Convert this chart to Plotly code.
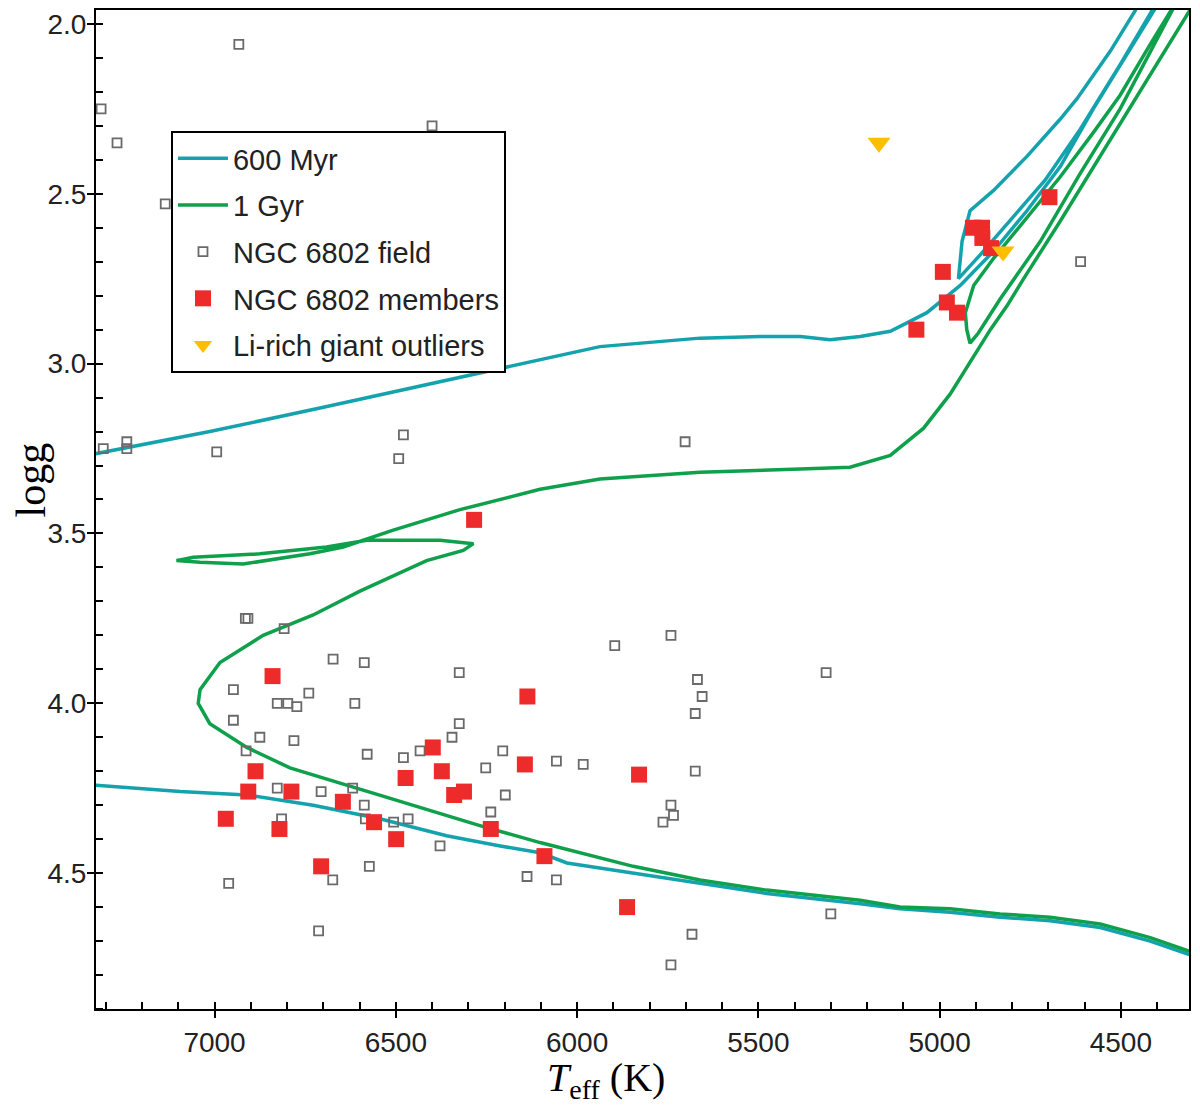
import plotly.graph_objects as go

# isochrones (Teff in K, logg), None breaks the line off-plot
iso600_teff = [4311, 4419, 4557, 4695, 4833, 4971, 5109, 5219, 5477, 5661, 5845, 6028, 6102, 6212,
               6360, 6544, 6728, 6911, 7095, 7324, 7400, None,
               7400, 7327, 7013, 6706, 6406, 6113, 5937, 5661, 5495, 5384, 5302, 5219, 5136, 5090,
               5035, 4943, 4852, 4759, 4667, 4576, 4391,
               4386, 4419, 4502, 4612, 4709, 4805, 4888, 4948,
               4938, 4916, 4851, 4759, 4667, 4621, 4529, 4460, 4433]
iso600_logg = [4.74, 4.70, 4.66, 4.64, 4.63, 4.615, 4.605, 4.59, 4.56, 4.53, 4.50, 4.47, 4.44, 4.42,
               4.39, 4.34, 4.30, 4.27, 4.26, 4.24, 4.235, None,
               3.28, 3.265, 3.20, 3.13, 3.06, 2.99, 2.95, 2.925, 2.92, 2.92, 2.93, 2.92, 2.905, 2.88,
               2.85, 2.77, 2.67, 2.55, 2.42, 2.25, 1.93,
               1.90, 1.97, 2.12, 2.31, 2.46, 2.58, 2.68, 2.75,
               2.64, 2.55, 2.49, 2.39, 2.28, 2.22, 2.08, 1.96, 1.90]

iso1g_teff = [4311, 4419, 4557, 4695, 4833, 4971, 5109, 5219, 5477, 5661, 5845, 6028, 6102, 6268,
              6452, 6635, 6792, 6911, 7013, 7045, 7040, 6985, 6866, 6728, 6599, 6415, 6314, 6286,
              6378, 6580, 6691, 6875, 7059, 7105,
              7040, 6921, 6737, 6645, 6507, 6323, 6102, 5937, 5661, 5384, 5247, 5136, 5044, 4971,
              4906, 4860, 4814, 4768, 4667, 4557, 4446, 4281,
              4336, 4502, 4612, 4722, 4833, 4893, 4916,
              4925, 4929, 4906, 4851, 4759, 4667, 4576, 4502, 4419, 4350, 4322]
iso1g_logg = [4.73, 4.69, 4.65, 4.63, 4.62, 4.605, 4.60, 4.58, 4.55, 4.52, 4.48, 4.43, 4.41, 4.36,
              4.30, 4.24, 4.19, 4.13, 4.06, 4.00, 3.96, 3.88, 3.80, 3.74, 3.67, 3.58, 3.55, 3.53,
              3.52, 3.52, 3.54, 3.56, 3.57, 3.58,
              3.585, 3.59, 3.56, 3.54, 3.49, 3.43, 3.37, 3.34, 3.32, 3.31, 3.305, 3.27, 3.19, 3.09,
              2.98, 2.90, 2.83, 2.75, 2.58, 2.39, 2.20, 1.91,
              1.915, 2.25, 2.44, 2.64, 2.81, 2.91, 2.94,
              2.90, 2.85, 2.77, 2.69, 2.57, 2.45, 2.32, 2.21, 2.06, 1.94, 1.90]

field_teff = [6933, 7313, 7269, 7136, 6400, 7307, 7242, 7242, 6994, 6479, 6492, 5702, 4611,
              6915, 6908, 6808, 6673, 6587, 6325, 6948, 6740, 6827, 6798, 6773, 6613, 6948, 6325,
              6875, 6781, 6345, 6913, 6579, 6479, 6433, 6205, 6252, 6827, 6706, 6619, 6198, 6587,
              6584, 6506, 6466, 6238, 6815, 6378, 6573, 6674, 6961, 6138, 6713, 5896, 5741, 5313,
              5668, 5655, 5674, 6057, 5983, 5674, 5741, 5734, 5763, 6057, 5300, 5683, 5741]
field_logg = [2.06, 2.25, 2.35, 2.53, 2.30, 3.25, 3.23, 3.25, 3.26, 3.21, 3.28, 3.23, 2.70,
              3.75, 3.75, 3.78, 3.87, 3.88, 3.91, 3.96, 3.97, 4.00, 4.00, 4.01, 4.00, 4.05, 4.06,
              4.10, 4.11, 4.10, 4.14, 4.15, 4.16, 4.14, 4.14, 4.19, 4.25, 4.26, 4.25, 4.27, 4.30,
              4.34, 4.35, 4.34, 4.32, 4.34, 4.42, 4.48, 4.52, 4.53, 4.51, 4.67, 3.83, 3.80, 3.91,
              3.93, 3.98, 4.03, 4.17, 4.18, 4.20, 4.30, 4.33, 4.35, 4.52, 4.62, 4.68, 4.77]

memb_teff = [6840, 6137, 6398, 6887, 6373, 6144, 6473, 6907, 6788, 6312, 6339, 6646, 6969, 6560,
             6821, 6499, 6238, 6090, 6706, 5829, 5862, 6284, 4697, 4908, 4883, 4882, 4858, 4991,
             4980, 4952, 5064]
memb_logg = [3.92, 3.98, 4.13, 4.20, 4.20, 4.18, 4.22, 4.26, 4.26, 4.26, 4.27, 4.29, 4.34, 4.35,
             4.37, 4.40, 4.37, 4.45, 4.48, 4.21, 4.60, 3.46, 2.51, 2.60, 2.60, 2.63, 2.66, 2.73,
             2.82, 2.85, 2.90]

lirich_teff = [5167, 4825]
lirich_logg = [2.35, 2.67]

x_range = [7327, 4312]
y_range = [4.90, 1.959]

TEAL = "#14a3ad"
GREEN = "#0ea04a"

fig = go.Figure()
fig.add_trace(go.Scatter(x=iso600_teff, y=iso600_logg, mode="lines", name="600 Myr",
                         legendgroup="a", line=dict(color=TEAL, width=3.5)))
fig.add_trace(go.Scatter(x=iso1g_teff, y=iso1g_logg, mode="lines", name="1 Gyr",
                         legendgroup="b", line=dict(color=GREEN, width=3.5)))
fig.add_trace(go.Scatter(x=field_teff, y=field_logg, mode="markers", name="NGC 6802 field",
                         legendgroup="c",
                         marker=dict(symbol="square-open", size=9, color="#6a6a6a",
                                     line=dict(width=1.8, color="#6a6a6a"))))
fig.add_trace(go.Scatter(x=memb_teff, y=memb_logg, mode="markers", name="NGC 6802 members",
                         legendgroup="d",
                         marker=dict(symbol="square", size=16, color="#ee2b2b", line=dict(width=0))))
fig.add_trace(go.Scatter(x=lirich_teff, y=lirich_logg, mode="markers", name="Li-rich giant outliers",
                         legendgroup="e",
                         marker=dict(symbol="triangle-down", size=20, color="#ffbd00",
                                     line=dict(width=0))))
# empty trace so the twin axes (inside half of the crossing ticks) get drawn
fig.add_trace(go.Scatter(x=[None], y=[None], xaxis="x2", yaxis="y2", showlegend=False,
                         hoverinfo="skip"))

tickfont = dict(family="Liberation Sans, Arial", size=28, color="#222222")
serif = "Liberation Serif, Times New Roman"

# the page body adds 8px of offset, so margins are shifted by that amount
fig.update_layout(
    width=1200, height=1112,
    margin=dict(l=88, r=19, t=2, b=111),
    paper_bgcolor="white", plot_bgcolor="white",
    xaxis=dict(range=x_range, dtick=500, ticks="outside", ticklen=7, tickwidth=2,
               tickcolor="black", showline=True, linewidth=2, linecolor="black", mirror=True,
               showgrid=False, zeroline=False, tickfont=tickfont, automargin=False,
               minor=dict(dtick=100, ticks="inside", ticklen=7, tickwidth=1.5, tickcolor="black")),
    yaxis=dict(range=y_range, dtick=0.5, tickformat=".1f", ticks="outside", ticklen=7, tickwidth=2,
               tickcolor="black", showline=True, linewidth=2, linecolor="black", mirror=True,
               showgrid=False, zeroline=False, tickfont=tickfont, automargin=False,
               ticklabelstandoff=-5,
               minor=dict(dtick=0.1, ticks="inside", ticklen=7, tickwidth=1.5, tickcolor="black")),
    xaxis2=dict(range=x_range, overlaying="x", anchor="y", side="bottom", dtick=500,
                ticks="inside", ticklen=7, tickwidth=2, tickcolor="black", automargin=False,
                showticklabels=False, showline=False, showgrid=False, zeroline=False),
    yaxis2=dict(range=y_range, overlaying="y", anchor="x", side="left", dtick=0.5,
                ticks="inside", ticklen=7, tickwidth=2, tickcolor="black", automargin=False,
                showticklabels=False, showline=False, showgrid=False, zeroline=False),
    legend=dict(x=0.0686, y=0.879, xanchor="left", yanchor="top",
                bgcolor="white", bordercolor="black", borderwidth=2,
                font=dict(family="Liberation Sans, Arial", size=29, color="#222222"),
                itemwidth=50, tracegroupgap=6),
    annotations=[
        dict(text="<i>T</i><sub>eff</sub> (K)", xref="paper", yref="paper",
             x=0.4666, y=-0.071, xanchor="center", yanchor="middle", showarrow=False,
             font=dict(family=serif, size=40, color="black")),
        dict(text="logg", xref="paper", yref="paper", x=-0.0595, y=0.53,
             xanchor="center", yanchor="middle", showarrow=False, textangle=-90,
             font=dict(family=serif, size=42, color="black")),
    ],
)

fig.write_html("out.html")
